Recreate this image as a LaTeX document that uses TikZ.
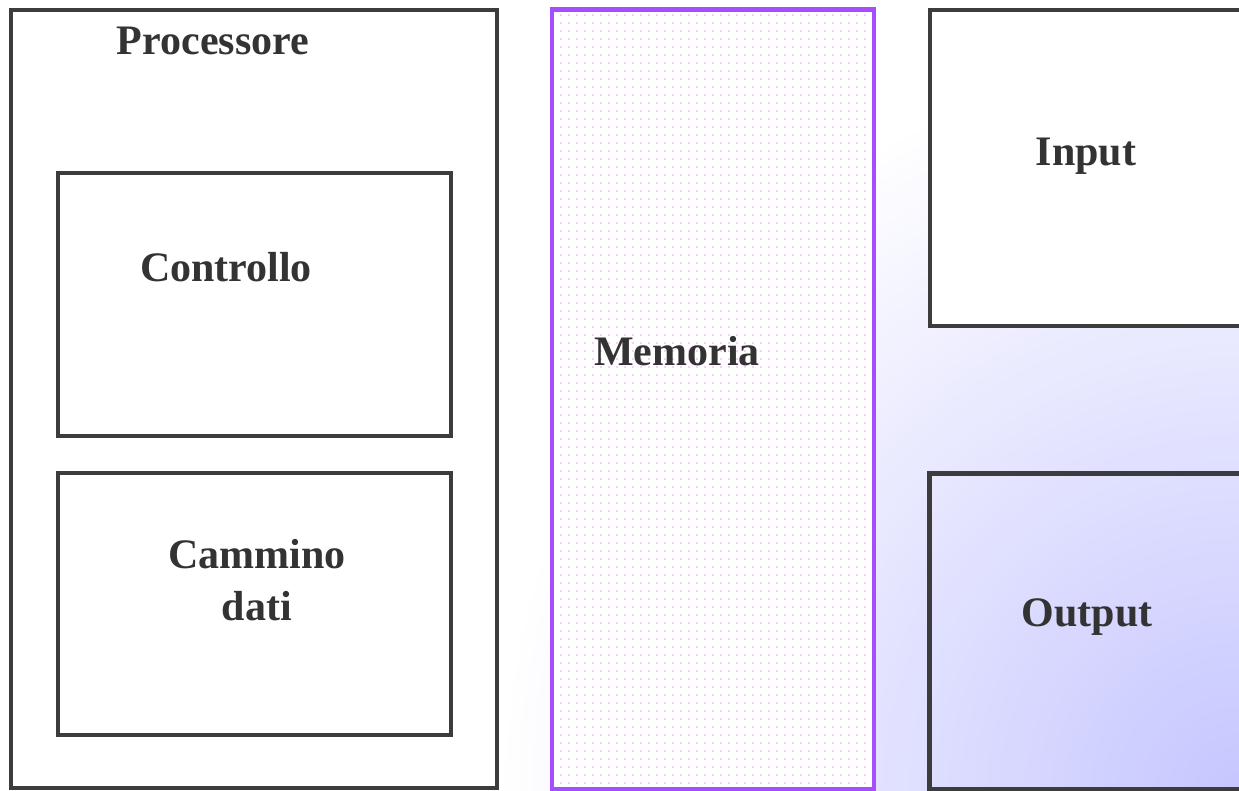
\documentclass[tikz,border=0pt]{standalone}
\usepackage{fontspec}
\setmainfont{Liberation Serif}
\usetikzlibrary{shadings}
\definecolor{boxline}{HTML}{3C3C3C}
\definecolor{txt}{HTML}{333333}
\definecolor{memline}{HTML}{A64DFF}
\definecolor{memdot}{HTML}{FFCCFF}
\definecolor{bgbr}{HTML}{C6C6FF}
\tikzset{
  box/.style={draw=boxline, line width=4.5pt, rectangle, inner sep=0pt, outer sep=0pt, anchor=north west},
  membox/.style={draw=memline, line width=4.5pt, rectangle, inner sep=0pt, outer sep=0pt, anchor=north west, fill=white},
  lbl/.style={text=txt, font=\fontsize{42}{48}\selectfont\bfseries, inner sep=0pt, anchor=base, align=center}
}
\begin{document}
\begin{tikzpicture}[x=1pt,y=-1pt]
\useasboundingbox (0,0) rectangle (1239,791);
\fill[white] (0,0) rectangle (1239,791);
\begin{scope}
\clip (0,0) rectangle (1239,791);
\shade[inner color=bgbr, outer color=white] (1239,791) circle (740);
\end{scope}
% Processore
\node[box, fill=white, minimum width=486pt, minimum height=778pt] (proc) at (11,10) {};
\node[box, minimum width=393pt, minimum height=263pt] (ctrl) at (58,173) {};
\node[box, minimum width=393pt, minimum height=262pt] (path) at (58,473) {};
% Memoria
\node[membox, minimum width=322pt, minimum height=780pt] (mem) at (552,9.5) {};
\foreach \i in {0,...,38}{
  \foreach \j in {0,...,96}{
    \fill[memdot] (560+8*\i,14+8*\j) rectangle +(2.3,2.3);
  }
}
% Input / Output
\node[box, fill=white, minimum width=340pt, minimum height=316pt] (inp) at (930,10) {};
\node[box, minimum width=340pt, minimum height=316pt] (outp) at (929.5,473.5) {};
% Labels
\node[lbl] (tproc) at (213,55) {Processore};
\node[lbl] (tctrl) at (226,282) {Controllo};
\node[lbl] (tpath1) at (257,568) {Cammino};
\node[lbl] (tpath2) at (257,620) {dati};
\node[lbl] (tmem) at (677,366) {Memoria};
\node[lbl] (tinp) at (1086,166) {Input};
\node[lbl] (toutp) at (1087,626) {Output};
\end{tikzpicture}
\end{document}
